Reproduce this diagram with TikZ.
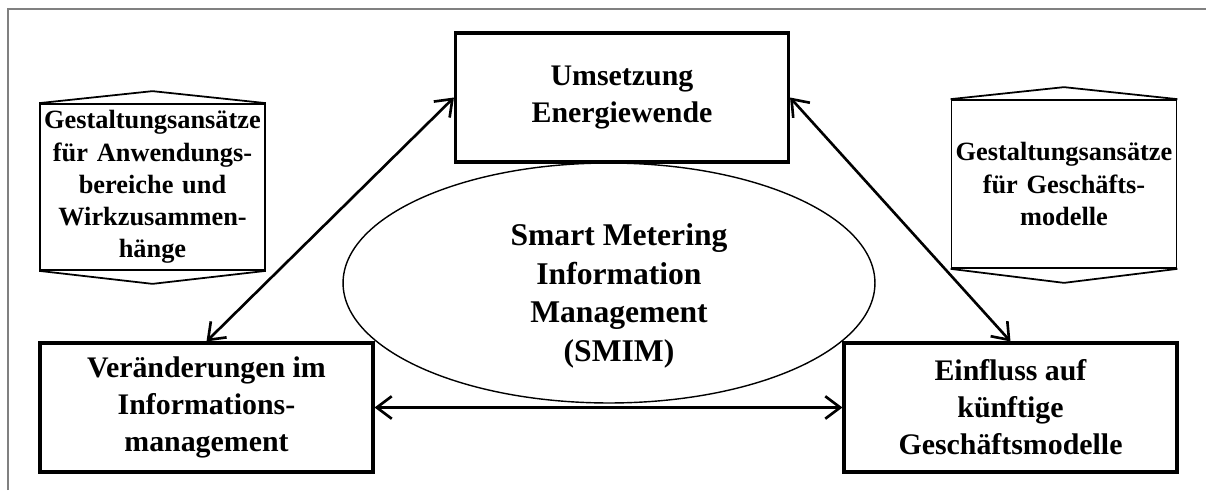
\documentclass[tikz,border=0pt]{standalone}
\usepackage{fontspec}
\setmainfont{Liberation Serif}
\usetikzlibrary{arrows.meta,shapes.geometric}

\begin{document}
\begin{tikzpicture}
[x=0.02cm,y=-0.02cm,
 box/.style={draw,line width=1.8pt,minimum width=6.66cm,minimum height=2.58cm,align=center,font=\bfseries\fontsize{17}{21}\selectfont},
 note/.style={draw,line width=1pt,text width=4.4cm,inner xsep=0.05cm,align=center,font=\bfseries\fontsize{15}{18.3}\selectfont},
 link/.style={{Straight Barb[length=3mm,width=4.5mm]}-{Straight Barb[length=3mm,width=4.5mm]},line width=1.5pt}]
\useasboundingbox (0,0) rectangle (1206,490);
\draw[gray,line width=0.8pt] (8,490) -- (8,9) -- (1206,9);

\node[draw,ellipse,line width=0.8pt,minimum width=10.64cm,minimum height=4.8cm] (smim) at (609,283) {};
\node[align=center,font=\bfseries\fontsize{18}{22}\selectfont] (smimtext) at (619,296) {Smart Metering\\Information\\Management\\(SMIM)};

\node[box,fill=white] (energie) at (622,97.5) {Umsetzung\\Energiewende};
\node[box,fill=white] (info) at (206.5,407.5) {Veränderungen im\\Informations-\\management};
\node[box,fill=white] (einfluss) at (1010.5,407.5) {Einfluss auf\\künftige\\Geschäftsmodelle};

\node[note,minimum height=3.32cm] (gestanw) at (152.5,187) {Gestaltungsansätze\\für Anwendungs-\\bereiche und\\Wirkzusammen-\\hänge};
\draw[line width=1pt] (gestanw.north west) -- ([yshift=0.24cm]gestanw.north) -- (gestanw.north east);
\draw[line width=1pt] (gestanw.south west) -- ([yshift=-0.26cm]gestanw.south) -- (gestanw.south east);

\node[note,minimum height=3.36cm] (gestgesch) at (1064,184) {Gestaltungsansätze\\für Geschäfts-\\modelle};
\draw[line width=1pt] (gestgesch.north west) -- ([yshift=0.24cm]gestgesch.north) -- (gestgesch.north east);
\draw[line width=1pt] (gestgesch.south west) -- ([yshift=-0.28cm]gestgesch.south) -- (gestgesch.south east);

\draw[link] (info.north) -- (energie.west);
\draw[link] (energie.east) -- (einfluss.north);
\draw[link] (info.east) -- (einfluss.west);
\end{tikzpicture}
\end{document}
